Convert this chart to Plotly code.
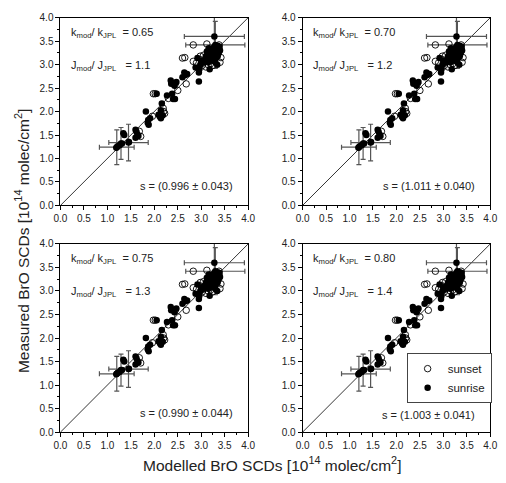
import plotly.graph_objects as go

# ---- data ----
sunrise_x = [1.19, 1.22, 1.26, 1.31, 1.34, 1.36, 1.46, 1.60, 1.62, 1.64, 1.60, 1.66,
             1.82, 1.87, 1.88, 1.91, 1.86, 2.05, 2.09, 2.12, 2.14, 2.16, 2.14, 2.18,
             2.27, 2.35, 2.36, 2.38, 2.40, 2.44, 2.43, 2.47, 2.60, 2.64, 2.66, 2.70,
             2.95, 2.88, 2.92, 2.95, 2.98, 2.96, 3.00, 3.05, 3.08, 3.12, 3.16, 3.18,
             3.10, 3.14, 3.15, 3.18, 3.20, 3.22, 3.22, 3.24, 3.25, 3.26, 3.27, 3.28,
             3.28, 3.30, 3.30, 3.31, 3.32, 3.33, 3.34, 3.35, 3.35, 3.36, 3.37, 3.38,
             3.39, 3.40, 3.30, 3.34]
sunrise_y = [1.23, 1.26, 1.28, 1.32, 1.54, 1.50, 1.35, 1.61, 1.57, 1.51, 1.44, 1.48,
             2.00, 1.82, 1.72, 1.86, 1.76, 2.38, 1.93, 1.89, 2.03, 2.17, 1.86, 1.92,
             2.34, 2.66, 2.59, 2.38, 2.27, 2.27, 2.55, 2.63, 2.73, 2.83, 2.78, 2.80,
             2.64, 2.94, 3.14, 2.83, 3.00, 2.90, 3.08, 3.05, 3.10, 3.28, 3.35, 2.90,
             3.18, 3.22, 3.05, 3.12, 3.25, 3.30, 3.18, 3.08, 3.35, 3.22, 3.15, 3.28,
             3.38, 3.25, 3.12, 3.32, 3.20, 3.36, 3.28, 3.18, 3.40, 3.30, 3.24, 3.35,
             3.38, 3.30, 3.05, 3.00]

sunset_x = [1.71, 1.68, 1.98, 2.02, 2.19, 2.22, 2.20, 2.30, 2.45, 2.68, 2.65, 2.60,
            2.83, 2.90, 2.98, 3.05, 3.02, 2.83, 3.12, 3.15, 3.20, 3.24, 3.05, 3.10,
            3.40, 3.42, 3.38, 3.00, 2.50, 1.96]
sunset_y = [1.47, 1.58, 2.38, 2.38, 2.07, 1.96, 2.00, 2.28, 2.60, 2.59, 3.15, 3.14,
            3.07, 3.04, 3.18, 3.04, 2.98, 3.42, 3.44, 3.00, 3.02, 2.98, 3.20, 2.95,
            3.05, 3.15, 3.42, 3.10, 2.45, 1.90]

err_x = [1.20, 1.29, 1.45, 3.28, 3.30]
err_y = [1.24, 1.32, 1.34, 3.60, 3.42]
err_dx = [0.37, 0.0, 0.42, 0.64, 0.63]
err_dy = [0.37, 0.34, 0.39, 0.45, 0.50]

diag = [0.0, 4.0]

k_ratio = ["0.65", "0.70", "0.75", "0.80"]
j_ratio = ["1.1", "1.2", "1.3", "1.4"]
s_text = ["0.996 ± 0.043", "1.011 ± 0.040", "0.990 ± 0.044", "1.003 ± 0.041"]

tickvals = [0.0, 0.5, 1.0, 1.5, 2.0, 2.5, 3.0, 3.5, 4.0]
ticktext = ["0.0", "0.5", "1.0", "1.5", "2.0", "2.5", "3.0", "3.5", "4.0"]

# ---- layout geometry (paper coordinates) ----
W, H = 506, 483
xdoms = [[55 / W, 248 / W], [304 / W, 497 / W], [55 / W, 248 / W], [304 / W, 497 / W]]
ydoms = [[1 - 204.5 / H, 1 - 12 / H], [1 - 204.5 / H, 1 - 12 / H],
         [1 - 437 / H, 1 - 244 / H], [1 - 437 / H, 1 - 244 / H]]
s_ypos = [0.42, 0.42, 0.40, 0.36]

FONT = "Liberation Sans, Arial, sans-serif"
TXT = "#222"

fig = go.Figure()
annotations = []
for i in range(4):
    xa = "x" if i == 0 else f"x{i+1}"
    ya = "y" if i == 0 else f"y{i+1}"
    # diagonal 1:1 line
    fig.add_trace(go.Scatter(x=diag, y=diag, mode="lines", xaxis=xa, yaxis=ya,
                             line=dict(color="black", width=0.8), showlegend=False,
                             hoverinfo="skip"))
    # error-bar points
    fig.add_trace(go.Scatter(x=err_x, y=err_y, mode="markers", xaxis=xa, yaxis=ya,
                             marker=dict(symbol="circle", size=6.5, color="black"),
                             error_x=dict(type="data", array=err_dx, color="#555",
                                          thickness=1.2, width=2.5),
                             error_y=dict(type="data", array=err_dy, color="#555",
                                          thickness=1.2, width=2.5),
                             showlegend=False))
    fig.add_trace(go.Scatter(x=sunset_x, y=sunset_y, mode="markers", xaxis=xa, yaxis=ya,
                             name="sunset", showlegend=(i == 3), legendrank=1,
                             marker=dict(symbol="circle-open", size=6.5, color="black",
                                         line=dict(width=0.9, color="black"))))
    fig.add_trace(go.Scatter(x=sunrise_x, y=sunrise_y, mode="markers", xaxis=xa, yaxis=ya,
                             name="sunrise", showlegend=(i == 3), legendrank=2,
                             marker=dict(symbol="circle", size=6.5, color="black")))

    axcommon = dict(range=[0, 4], showline=True, linecolor="black", linewidth=1,
                    mirror=True, ticks="outside", ticklen=4, tickwidth=1,
                    tickcolor="black", tickvals=tickvals, ticktext=ticktext,
                    showgrid=False, zeroline=False,
                    tickfont=dict(family=FONT, size=10, color=TXT),
                    minor=dict(ticks="outside", ticklen=2, tickwidth=1,
                               tickcolor="black", dtick=0.25, showgrid=False))
    fig.update_layout(**{
        ("xaxis" if i == 0 else f"xaxis{i+1}"): dict(domain=xdoms[i], anchor=ya, **axcommon),
        ("yaxis" if i == 0 else f"yaxis{i+1}"): dict(domain=ydoms[i], anchor=xa, **axcommon),
    })

    annotations.append(dict(
        x=0.19, y=3.67, xref=xa, yref=ya, xanchor="left", yanchor="middle",
        showarrow=False, font=dict(family=FONT, size=11, color=TXT),
        text=f"k<sub>mod</sub>/ k<sub>JPL</sub>&nbsp;&nbsp;= {k_ratio[i]}"))
    annotations.append(dict(
        x=0.19, y=2.97, xref=xa, yref=ya, xanchor="left", yanchor="middle",
        showarrow=False, font=dict(family=FONT, size=11, color=TXT),
        text=f"J<sub>mod</sub>/ J<sub>JPL</sub>&nbsp;&nbsp;&nbsp;= {j_ratio[i]}"))
    annotations.append(dict(
        x=3.72, y=s_ypos[i], xref=xa, yref=ya, xanchor="right", yanchor="middle",
        showarrow=False, font=dict(family=FONT, size=11, color=TXT),
        text=f"s = ({s_text[i]})"))

annotations.append(dict(
    x=15 / W, y=0.5, xref="paper", yref="paper", textangle=-90,
    xanchor="center", yanchor="middle", showarrow=False,
    font=dict(family=FONT, size=15.5, color=TXT),
    text="Measured BrO SCDs [10<sup>14</sup> molec/cm<sup>2</sup>]"))
annotations.append(dict(
    x=273 / W, y=1 - 470 / H, xref="paper", yref="paper",
    xanchor="center", yanchor="middle", showarrow=False,
    font=dict(family=FONT, size=15.5, color=TXT),
    text="Modelled BrO SCDs [10<sup>14</sup> molec/cm<sup>2</sup>]"))

fig.update_layout(
    width=W, height=H, margin=dict(l=0, r=0, t=0, b=0),
    paper_bgcolor="white", plot_bgcolor="white",
    annotations=annotations,
    legend=dict(x=411 / W, y=1 - 356 / H, xanchor="left", yanchor="top",
                bordercolor="#444", borderwidth=1, bgcolor="white",
                font=dict(family=FONT, size=11.5, color=TXT),
                itemsizing="trace", tracegroupgap=0,
                traceorder="normal"),
    showlegend=True,
)

fig.write_html("out.html")
